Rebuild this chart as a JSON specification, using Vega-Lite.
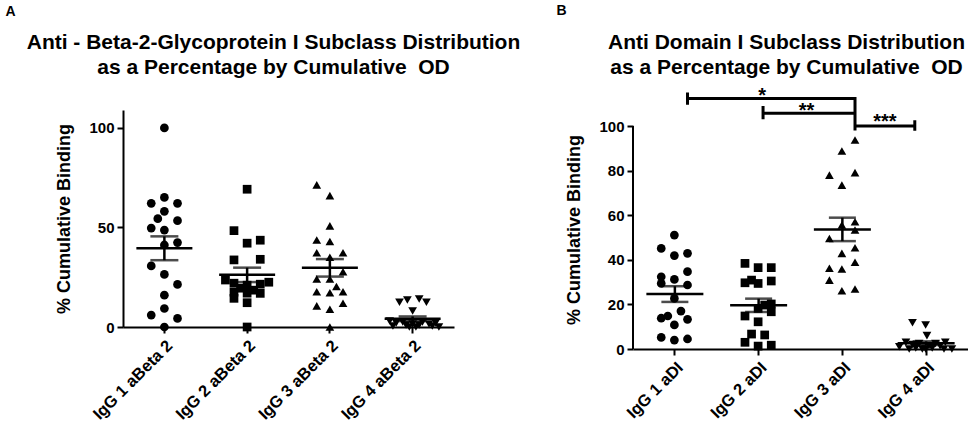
{
  "$schema": "https://vega.github.io/schema/vega-lite/v6.json",
  "padding": {"left": 4, "top": 3, "right": 0, "bottom": 0},
  "background": "white",
  "spacing": 34,
  "config": {
    "view": {"stroke": null},
    "font": "Liberation Sans",
    "axis": {
      "grid": false,
      "domainColor": "black", "domainWidth": 2,
      "tickColor": "black", "tickWidth": 2, "tickSize": 6,
      "labelColor": "black", "labelFont": "Liberation Sans", "labelFontWeight": "bold", "labelFontSize": 15, "labelPadding": 3,
      "titleColor": "black", "titleFont": "Liberation Sans", "titleFontWeight": "bold", "titleFontSize": 18
    },
    "axisX": {"labelAngle": -45, "labelPadding": 4, "labelFontSize": 16.5},
    "axisY": {"titlePadding": 15},
    "title": {"font": "Liberation Sans", "fontSize": 21, "fontWeight": "bold", "color": "black", "lineHeight": 25, "anchor": "middle", "frame": "group"}
  },
  "datasets": {
    "a": [
      {"group": "IgG 1 aBeta 2", "value": 100, "lane": 0},
      {"group": "IgG 1 aBeta 2", "value": 62.1, "lane": -2},
      {"group": "IgG 1 aBeta 2", "value": 65.1, "lane": 0},
      {"group": "IgG 1 aBeta 2", "value": 62.1, "lane": 2},
      {"group": "IgG 1 aBeta 2", "value": 58.1, "lane": 0},
      {"group": "IgG 1 aBeta 2", "value": 54.4, "lane": -1},
      {"group": "IgG 1 aBeta 2", "value": 53.4, "lane": 2},
      {"group": "IgG 1 aBeta 2", "value": 49.7, "lane": -2},
      {"group": "IgG 1 aBeta 2", "value": 48.7, "lane": 0},
      {"group": "IgG 1 aBeta 2", "value": 41.2, "lane": 0},
      {"group": "IgG 1 aBeta 2", "value": 42.4, "lane": 2},
      {"group": "IgG 1 aBeta 2", "value": 30.7, "lane": -2},
      {"group": "IgG 1 aBeta 2", "value": 26.4, "lane": 0},
      {"group": "IgG 1 aBeta 2", "value": 21.4, "lane": 2},
      {"group": "IgG 1 aBeta 2", "value": 16.0, "lane": 0},
      {"group": "IgG 1 aBeta 2", "value": 9.3, "lane": 0},
      {"group": "IgG 1 aBeta 2", "value": 6.0, "lane": -2},
      {"group": "IgG 1 aBeta 2", "value": 4.3, "lane": 2},
      {"group": "IgG 1 aBeta 2", "value": 0, "lane": 0},
      {"group": "IgG 2 aBeta 2", "value": 69.2, "lane": 0},
      {"group": "IgG 2 aBeta 2", "value": 48.4, "lane": -2},
      {"group": "IgG 2 aBeta 2", "value": 43.6, "lane": 2},
      {"group": "IgG 2 aBeta 2", "value": 42.1, "lane": 0},
      {"group": "IgG 2 aBeta 2", "value": 33.7, "lane": -2},
      {"group": "IgG 2 aBeta 2", "value": 34.0, "lane": 2},
      {"group": "IgG 2 aBeta 2", "value": 23.6, "lane": -3.3},
      {"group": "IgG 2 aBeta 2", "value": 22.5, "lane": 3.3},
      {"group": "IgG 2 aBeta 2", "value": 22.0, "lane": -2},
      {"group": "IgG 2 aBeta 2", "value": 21.5, "lane": 2},
      {"group": "IgG 2 aBeta 2", "value": 21.0, "lane": 0},
      {"group": "IgG 2 aBeta 2", "value": 19.5, "lane": -1},
      {"group": "IgG 2 aBeta 2", "value": 18.5, "lane": 1},
      {"group": "IgG 2 aBeta 2", "value": 17.5, "lane": -2},
      {"group": "IgG 2 aBeta 2", "value": 17.0, "lane": 0},
      {"group": "IgG 2 aBeta 2", "value": 16.9, "lane": 2},
      {"group": "IgG 2 aBeta 2", "value": 14.4, "lane": -2},
      {"group": "IgG 2 aBeta 2", "value": 12.2, "lane": 0},
      {"group": "IgG 2 aBeta 2", "value": 0, "lane": 0},
      {"group": "IgG 3 aBeta 2", "value": 71.4, "lane": -2},
      {"group": "IgG 3 aBeta 2", "value": 66.0, "lane": 0},
      {"group": "IgG 3 aBeta 2", "value": 50.8, "lane": 0},
      {"group": "IgG 3 aBeta 2", "value": 43.7, "lane": -2},
      {"group": "IgG 3 aBeta 2", "value": 42.9, "lane": 0},
      {"group": "IgG 3 aBeta 2", "value": 37.3, "lane": -2},
      {"group": "IgG 3 aBeta 2", "value": 37.3, "lane": 2},
      {"group": "IgG 3 aBeta 2", "value": 35.0, "lane": 0},
      {"group": "IgG 3 aBeta 2", "value": 27.8, "lane": 2},
      {"group": "IgG 3 aBeta 2", "value": 24.1, "lane": -2},
      {"group": "IgG 3 aBeta 2", "value": 24.1, "lane": 0},
      {"group": "IgG 3 aBeta 2", "value": 20.3, "lane": 1},
      {"group": "IgG 3 aBeta 2", "value": 17.7, "lane": -2},
      {"group": "IgG 3 aBeta 2", "value": 17.2, "lane": 0},
      {"group": "IgG 3 aBeta 2", "value": 17.7, "lane": 2},
      {"group": "IgG 3 aBeta 2", "value": 10.6, "lane": -2},
      {"group": "IgG 3 aBeta 2", "value": 11.9, "lane": 2},
      {"group": "IgG 3 aBeta 2", "value": 8.9, "lane": 0},
      {"group": "IgG 3 aBeta 2", "value": 0, "lane": 0},
      {"group": "IgG 4 aBeta 2", "value": 12.4, "lane": -2},
      {"group": "IgG 4 aBeta 2", "value": 13.6, "lane": -0.8},
      {"group": "IgG 4 aBeta 2", "value": 14.1, "lane": 1},
      {"group": "IgG 4 aBeta 2", "value": 12.4, "lane": 2.1},
      {"group": "IgG 4 aBeta 2", "value": 8.0, "lane": 0},
      {"group": "IgG 4 aBeta 2", "value": 3.0, "lane": -3.5},
      {"group": "IgG 4 aBeta 2", "value": 2.5, "lane": -1.5},
      {"group": "IgG 4 aBeta 2", "value": 2.5, "lane": 1.5},
      {"group": "IgG 4 aBeta 2", "value": 2.0, "lane": 3.5},
      {"group": "IgG 4 aBeta 2", "value": 2.0, "lane": -2.5},
      {"group": "IgG 4 aBeta 2", "value": 1.5, "lane": 0},
      {"group": "IgG 4 aBeta 2", "value": 1.5, "lane": 2.5},
      {"group": "IgG 4 aBeta 2", "value": 1.0, "lane": -1},
      {"group": "IgG 4 aBeta 2", "value": 1.0, "lane": 1},
      {"group": "IgG 4 aBeta 2", "value": 0.5, "lane": -3},
      {"group": "IgG 4 aBeta 2", "value": 0.5, "lane": 3},
      {"group": "IgG 4 aBeta 2", "value": 0, "lane": -0.5},
      {"group": "IgG 4 aBeta 2", "value": 0, "lane": 0.5},
      {"group": "IgG 4 aBeta 2", "value": 0, "lane": 4}
    ],
    "b": [
      {"group": "IgG 1 aDI", "value": 51.1, "lane": 0},
      {"group": "IgG 1 aDI", "value": 45.1, "lane": -2},
      {"group": "IgG 1 aDI", "value": 41.9, "lane": 0},
      {"group": "IgG 1 aDI", "value": 42.9, "lane": 2},
      {"group": "IgG 1 aDI", "value": 34.7, "lane": 2},
      {"group": "IgG 1 aDI", "value": 32.4, "lane": -2},
      {"group": "IgG 1 aDI", "value": 31.2, "lane": 0},
      {"group": "IgG 1 aDI", "value": 29.4, "lane": -2},
      {"group": "IgG 1 aDI", "value": 28.7, "lane": 2},
      {"group": "IgG 1 aDI", "value": 22.7, "lane": 0},
      {"group": "IgG 1 aDI", "value": 17.0, "lane": 1},
      {"group": "IgG 1 aDI", "value": 13.8, "lane": -2},
      {"group": "IgG 1 aDI", "value": 14.8, "lane": -1},
      {"group": "IgG 1 aDI", "value": 13.3, "lane": 2},
      {"group": "IgG 1 aDI", "value": 10.8, "lane": 0},
      {"group": "IgG 1 aDI", "value": 5.2, "lane": -2},
      {"group": "IgG 1 aDI", "value": 4.0, "lane": 0},
      {"group": "IgG 1 aDI", "value": 4.5, "lane": 2},
      {"group": "IgG 2 aDI", "value": 38.4, "lane": -2},
      {"group": "IgG 2 aDI", "value": 36.5, "lane": 0},
      {"group": "IgG 2 aDI", "value": 36.5, "lane": 2},
      {"group": "IgG 2 aDI", "value": 29.7, "lane": -2},
      {"group": "IgG 2 aDI", "value": 30.9, "lane": -1},
      {"group": "IgG 2 aDI", "value": 29.4, "lane": 0},
      {"group": "IgG 2 aDI", "value": 30.5, "lane": 2},
      {"group": "IgG 2 aDI", "value": 18.2, "lane": 0},
      {"group": "IgG 2 aDI", "value": 19.7, "lane": 1},
      {"group": "IgG 2 aDI", "value": 20.2, "lane": 2},
      {"group": "IgG 2 aDI", "value": 16.7, "lane": 2},
      {"group": "IgG 2 aDI", "value": 14.8, "lane": -2},
      {"group": "IgG 2 aDI", "value": 12.2, "lane": 0},
      {"group": "IgG 2 aDI", "value": 6.7, "lane": -1},
      {"group": "IgG 2 aDI", "value": 6.3, "lane": 1},
      {"group": "IgG 2 aDI", "value": 3.0, "lane": -2},
      {"group": "IgG 2 aDI", "value": 1.3, "lane": 0},
      {"group": "IgG 2 aDI", "value": 1.7, "lane": 2},
      {"group": "IgG 3 aDI", "value": 93.7, "lane": 2},
      {"group": "IgG 3 aDI", "value": 88.8, "lane": 0},
      {"group": "IgG 3 aDI", "value": 78.0, "lane": -1.9},
      {"group": "IgG 3 aDI", "value": 79.1, "lane": 2},
      {"group": "IgG 3 aDI", "value": 73.5, "lane": 0},
      {"group": "IgG 3 aDI", "value": 57.1, "lane": 2},
      {"group": "IgG 3 aDI", "value": 55.6, "lane": 0},
      {"group": "IgG 3 aDI", "value": 53.4, "lane": 2},
      {"group": "IgG 3 aDI", "value": 49.6, "lane": -1.9},
      {"group": "IgG 3 aDI", "value": 45.4, "lane": 2},
      {"group": "IgG 3 aDI", "value": 42.9, "lane": 0},
      {"group": "IgG 3 aDI", "value": 36.2, "lane": -1.9},
      {"group": "IgG 3 aDI", "value": 35.9, "lane": 0},
      {"group": "IgG 3 aDI", "value": 38.9, "lane": 2},
      {"group": "IgG 3 aDI", "value": 30.9, "lane": -1.9},
      {"group": "IgG 3 aDI", "value": 26.1, "lane": 0},
      {"group": "IgG 3 aDI", "value": 26.9, "lane": 2},
      {"group": "IgG 4 aDI", "value": 11.8, "lane": -2},
      {"group": "IgG 4 aDI", "value": 10.8, "lane": 0},
      {"group": "IgG 4 aDI", "value": 6.0, "lane": 0.2},
      {"group": "IgG 4 aDI", "value": 3.0, "lane": -3},
      {"group": "IgG 4 aDI", "value": 2.5, "lane": -1},
      {"group": "IgG 4 aDI", "value": 2.5, "lane": 1.5},
      {"group": "IgG 4 aDI", "value": 3.0, "lane": 3},
      {"group": "IgG 4 aDI", "value": 2.0, "lane": -2},
      {"group": "IgG 4 aDI", "value": 1.5, "lane": 0.5},
      {"group": "IgG 4 aDI", "value": 1.5, "lane": 2.2},
      {"group": "IgG 4 aDI", "value": 1.0, "lane": -4},
      {"group": "IgG 4 aDI", "value": 0.5, "lane": -1.5},
      {"group": "IgG 4 aDI", "value": 0.5, "lane": 1},
      {"group": "IgG 4 aDI", "value": 0, "lane": 4},
      {"group": "IgG 4 aDI", "value": 0, "lane": -0.5},
      {"group": "IgG 4 aDI", "value": 0, "lane": -2.5},
      {"group": "IgG 4 aDI", "value": 0, "lane": 2.8},
      {"group": "IgG 4 aDI", "value": 0, "lane": 0}
    ],
    "brackets": [
      {"b": "s1", "o": 1, "group": "IgG 1 aDI", "lane": 2, "value": 115},
      {"b": "s1", "o": 2, "group": "IgG 1 aDI", "lane": 2, "value": 109.5},
      {"b": "s1", "o": 3, "group": "IgG 1 aDI", "lane": 2, "value": 112.4},
      {"b": "s1", "o": 4, "group": "IgG 3 aDI", "lane": 2, "value": 112.4},
      {"b": "s1", "o": 5, "group": "IgG 3 aDI", "lane": 2, "value": 98},
      {"b": "s2", "o": 1, "group": "IgG 2 aDI", "lane": 0.75, "value": 109},
      {"b": "s2", "o": 2, "group": "IgG 2 aDI", "lane": 0.75, "value": 103},
      {"b": "s2", "o": 3, "group": "IgG 2 aDI", "lane": 0.75, "value": 105.7},
      {"b": "s2", "o": 4, "group": "IgG 3 aDI", "lane": 2, "value": 105.7},
      {"b": "s3", "o": 1, "group": "IgG 3 aDI", "lane": 2, "value": 100},
      {"b": "s3", "o": 2, "group": "IgG 4 aDI", "lane": -1.65, "value": 100},
      {"b": "s3", "o": 3, "group": "IgG 4 aDI", "lane": -1.65, "value": 102.6},
      {"b": "s3", "o": 4, "group": "IgG 4 aDI", "lane": -1.65, "value": 97.9}
    ],
    "stars": [
      {"label": "*", "group": "IgG 2 aDI", "lane": 0.6, "value": 110.8},
      {"label": "**", "group": "IgG 3 aDI", "lane": -5.4, "value": 104},
      {"label": "***", "group": "IgG 4 aDI", "lane": -6.2, "value": 99.1}
    ]
  },
  "hconcat": [
    {
      "width": 331,
      "height": 217,
      "title": {"text": ["Anti - Beta-2-Glycoprotein I Subclass Distribution", "as a Percentage by Cumulative\u00a0 OD"], "offset": -73, "dx": -15},
      "data": {"name": "a"},
      "encoding": {
        "x": {
          "field": "group", "type": "nominal",
          "scale": {"type": "band", "domain": ["IgG 1 aBeta 2", "IgG 2 aBeta 2", "IgG 3 aBeta 2", "IgG 4 aBeta 2"], "paddingInner": 0, "paddingOuter": 0},
          "axis": {"title": "A", "titleX": -113, "titleY": -315.5, "titleAlign": "center", "titleBaseline": "middle", "titleFontSize": 14, "titleAngle": 0}
        },
        "y": {
          "field": "value", "type": "quantitative", "title": "% Cumulative Binding",
          "scale": {"domain": [0, 109], "nice": false, "zero": true},
          "axis": {"values": [0, 50, 100]}
        }
      },
      "layer": [
        {
          "mark": {"type": "point", "filled": true, "size": 76, "color": "black", "opacity": 1},
          "encoding": {
            "xOffset": {"field": "lane", "type": "quantitative", "scale": {"domain": [-6.3, 6.3], "nice": false, "zero": false}},
            "shape": {"field": "group", "type": "nominal", "legend": null,
              "scale": {"domain": ["IgG 1 aBeta 2", "IgG 2 aBeta 2", "IgG 3 aBeta 2", "IgG 4 aBeta 2"], "range": ["circle", "square", "triangle-up", "triangle-down"]}}
          }
        },
        {
          "mark": {"type": "tick", "size": 56, "thickness": 2.5, "color": "black", "opacity": 1},
          "encoding": {"y": {"aggregate": "mean", "field": "value", "type": "quantitative", "title": "% Cumulative Binding"}}
        },
        {
          "mark": {"type": "errorbar", "extent": "stderr", "ticks": true, "size": 28, "thickness": 2.5, "color": "black"},
          "encoding": {"y": {"field": "value", "type": "quantitative", "title": "% Cumulative Binding"}}
        }
      ]
    },
    {
      "width": 335,
      "height": 239,
      "title": {"text": ["Anti Domain I Subclass Distribution", "as a Percentage by Cumulative\u00a0 OD"], "offset": -75, "dx": -14},
      "data": {"name": "b"},
      "encoding": {
        "x": {
          "field": "group", "type": "nominal",
          "scale": {"type": "band", "domain": ["IgG 1 aDI", "IgG 2 aDI", "IgG 3 aDI", "IgG 4 aDI"], "paddingInner": 0, "paddingOuter": 0},
          "axis": {"title": "B", "titleX": -72, "titleY": -339, "titleAlign": "center", "titleBaseline": "middle", "titleFontSize": 14, "titleAngle": 0}
        },
        "y": {
          "field": "value", "type": "quantitative", "title": "% Cumulative Binding",
          "scale": {"domain": [0, 107.2], "nice": false, "zero": true},
          "axis": {"values": [0, 20, 40, 60, 80, 100], "domain": false}
        }
      },
      "layer": [
        {
          "mark": {"type": "rule", "strokeWidth": 2, "color": "black"},
          "encoding": {
            "x": {"datum": "IgG 1 aDI", "type": "nominal", "bandPosition": 0},
            "y": {"datum": 0, "type": "quantitative"},
            "y2": {"datum": 100}
          }
        },
        {
          "mark": {"type": "point", "filled": true, "size": 76, "color": "black", "opacity": 1},
          "encoding": {
            "xOffset": {"field": "lane", "type": "quantitative", "scale": {"domain": [-6.3, 6.3], "nice": false, "zero": false}},
            "shape": {"field": "group", "type": "nominal", "legend": null,
              "scale": {"domain": ["IgG 1 aDI", "IgG 2 aDI", "IgG 3 aDI", "IgG 4 aDI"], "range": ["circle", "square", "triangle-up", "triangle-down"]}}
          }
        },
        {
          "mark": {"type": "tick", "size": 57, "thickness": 2.5, "color": "black", "opacity": 1},
          "encoding": {"y": {"aggregate": "mean", "field": "value", "type": "quantitative", "title": "% Cumulative Binding"}}
        },
        {
          "mark": {"type": "errorbar", "extent": "stderr", "ticks": true, "size": 27, "thickness": 2.5, "color": "black"},
          "encoding": {"y": {"field": "value", "type": "quantitative", "title": "% Cumulative Binding"}}
        },
        {
          "data": {"name": "brackets"},
          "mark": {"type": "line", "color": "black", "strokeWidth": 3, "strokeJoin": "miter"},
          "encoding": {
            "xOffset": {"field": "lane", "type": "quantitative", "scale": {"domain": [-6.3, 6.3], "nice": false, "zero": false}},
            "detail": {"field": "b", "type": "nominal"},
            "order": {"field": "o", "type": "quantitative"}
          }
        },
        {
          "data": {"name": "stars"},
          "mark": {"type": "text", "color": "black", "font": "Liberation Sans", "fontWeight": "bold", "fontSize": 20, "baseline": "alphabetic", "align": "center"},
          "encoding": {
            "xOffset": {"field": "lane", "type": "quantitative", "scale": {"domain": [-6.3, 6.3], "nice": false, "zero": false}},
            "text": {"field": "label", "type": "nominal"}
          }
        }
      ]
    }
  ]
}
